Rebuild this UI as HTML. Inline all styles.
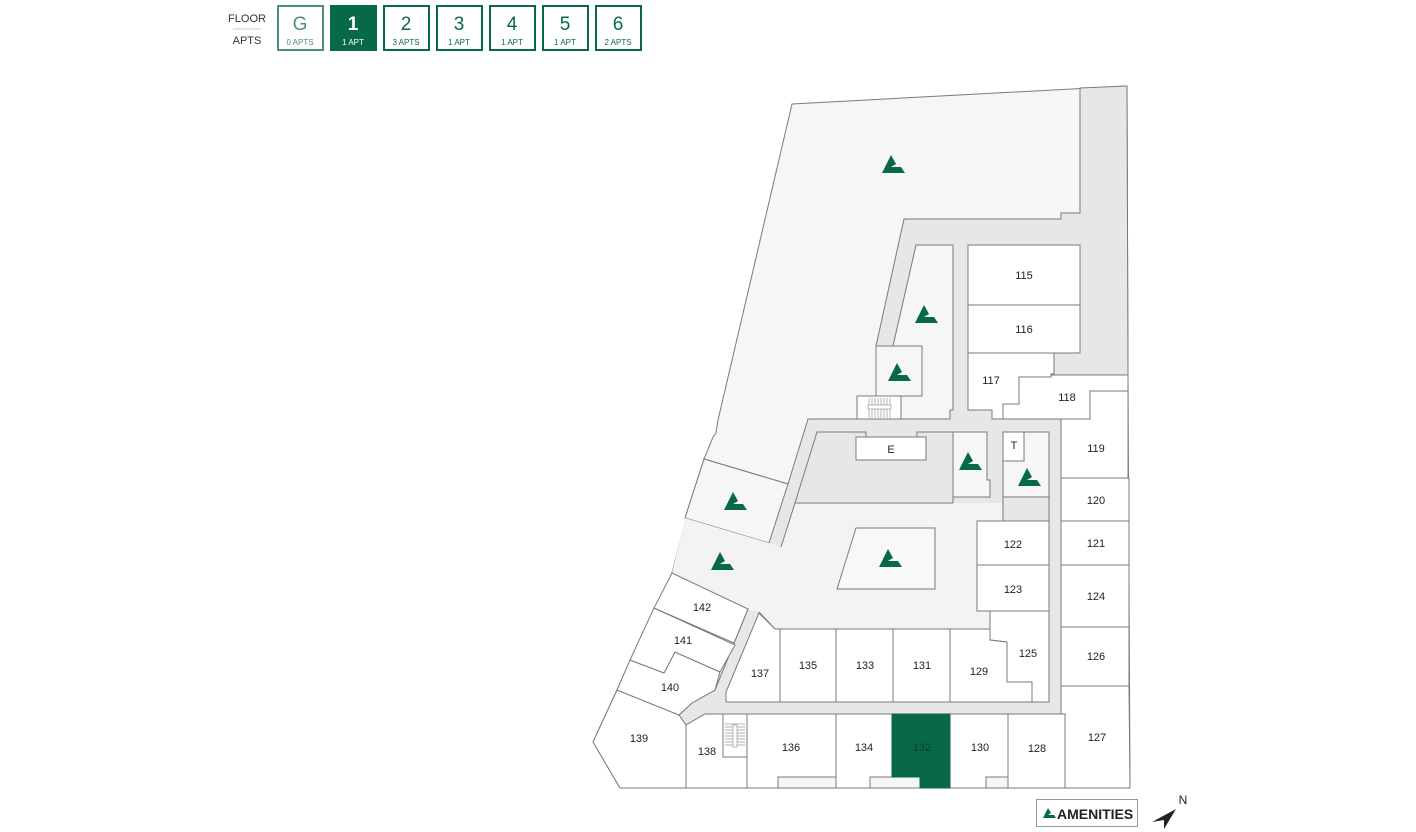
<!DOCTYPE html>
<html><head><meta charset="utf-8"><style>
body{margin:0;background:#fff;width:1416px;height:832px;overflow:hidden;font-family:"Liberation Sans",sans-serif}
svg{position:absolute;left:0;top:0}
</style></head><body>
<svg width="1416" height="832" viewBox="0 0 1416 832">
<defs>
<polygon id="am" points="-11,9 -2,-9 3,0 -2,3 8,3 12,9" fill="#07694a"/>
</defs>
<!-- header -->
<g font-family="Liberation Sans, sans-serif" text-anchor="middle">
<text x="247" y="22" font-size="11" fill="#333">FLOOR</text>
<line x1="233" y1="29" x2="261" y2="29" stroke="#ccc"/>
<text x="247" y="44" font-size="11" fill="#333">APTS</text>
<rect x="278" y="6" width="45" height="44" fill="#fff" stroke="#4f8f78" stroke-width="2"/>
<text x="300" y="30" font-size="19" fill="#4f8f78">G</text><text x="300" y="45" font-size="8" fill="#4f8f78">0 APTS</text>
<rect x="330" y="5" width="47" height="46" fill="#07694a"/>
<text x="353" y="30" font-size="19" fill="#fff" font-weight="bold">1</text><text x="353" y="45" font-size="8" fill="#fff">1 APT</text>
<g fill="none" stroke="#07694a" stroke-width="2">
<rect x="384" y="6" width="45" height="44"/><rect x="437" y="6" width="45" height="44"/><rect x="490" y="6" width="45" height="44"/><rect x="543" y="6" width="45" height="44"/><rect x="596" y="6" width="45" height="44"/></g>
<g fill="#07694a">
<text x="406" y="30" font-size="19">2</text><text x="406" y="45" font-size="8">3 APTS</text>
<text x="459" y="30" font-size="19">3</text><text x="459" y="45" font-size="8">1 APT</text>
<text x="512" y="30" font-size="19">4</text><text x="512" y="45" font-size="8">1 APT</text>
<text x="565" y="30" font-size="19">5</text><text x="565" y="45" font-size="8">1 APT</text>
<text x="618" y="30" font-size="19">6</text><text x="618" y="45" font-size="8">2 APTS</text>
</g></g>

<g stroke="#7a7a7a" stroke-width="1" stroke-linejoin="miter">
<!-- building base -->
<polygon fill="#f6f6f6" points="792,104 1127,86 1128,375 1130,788 620,788 593,742 617,690 672,573 686,518 704,459 713,437 716,433 718,420"/>
<!-- gray corridors -->
<polygon fill="#e7e7e7" points="904,219 1061,219 1061,213 1080,213 1080,88 1127,86 1128,375 1061,392 1061,714 705,714 686,725 679,715 692,703 715,690 748,609 685,518 704,459 788,484 808,419 876,419 876,346"/>
<!-- upper light areas -->
<polygon fill="#f6f6f6" points="916,245 953,245 953,410 950,410 950,419 901,419 901,396 922,396 922,346 893,346"/>
<rect x="876" y="346" width="46" height="50" fill="#f6f6f6"/>
<rect x="857" y="396" width="44" height="23" fill="#fff"/>
<!-- left box -->
<polygon fill="#f6f6f6" points="704,459 788,484 769,543 685,518"/>
<!-- central light -->
<polygon fill="#f3f3f3" stroke="none" points="685,518 769,543 781,547 795,503 1003,503 1003,521 977,521 977,611 990,611 990,629 775,629 759,612 748,609 672,573"/>
<polyline fill="none" points="781,547 795,503 953,503"/>
<polyline fill="none" points="1003,521 977,521 977,611 990,611 990,629 775,629 759,612"/>
<polygon fill="#f8f8f8" points="856,528 935,528 935,589 837,589"/>
<!-- E block -->
<polyline fill="none" points="795,503 817,432 866,432 866,437"/>
<polyline fill="none" points="917,437 917,432 953,432"/>
<rect x="856" y="437" width="70" height="23" fill="#fff"/>
<polygon fill="#f6f6f6" points="953,432 987,432 987,480 990,480 990,497 953,497 953,503"/>
<rect x="1003" y="432" width="46" height="65" fill="#f6f6f6"/>
<rect x="1003" y="432" width="21" height="29" fill="#fff"/>
<rect x="1003" y="497" width="46" height="24" fill="#e7e7e7"/>
<!-- rooms right -->
<g fill="#fff">
<rect x="968" y="245" width="112" height="60"/>
<rect x="968" y="305" width="112" height="48"/>
<polygon points="968,353 1054,353 1054,374 1051,374 1051,377 1019,377 1019,404 1003,404 1003,419 992,419 992,410 968,410"/>
<polygon points="1003,419 1003,404 1019,404 1019,377 1051,377 1051,375 1128,375 1128,391 1090,391 1090,419"/>
<polygon points="1061,419 1090,419 1090,391 1128,391 1128,478 1061,478"/>
<rect x="1061" y="478" width="68" height="43"/>
<rect x="1061" y="521" width="68" height="44"/>
<rect x="1061" y="565" width="68" height="62"/>
<rect x="1061" y="627" width="68" height="59"/>
<polygon points="1061,686 1129,686 1130,788 1065,788 1065,714 1061,714"/>
<rect x="977" y="521" width="72" height="44"/>
<rect x="977" y="565" width="72" height="46"/>
<polygon points="990,611 1049,611 1049,702 1032,702 1032,682 1007,682 1007,642 990,640"/>
<polygon points="950,629 990,629 990,640 1007,642 1007,682 1032,682 1032,702 950,702"/>
<rect x="893" y="629" width="57" height="73"/>
<rect x="836" y="629" width="57" height="73"/>
<rect x="780" y="629" width="56" height="73"/>
<polygon points="759,613 775,629 780,629 780,702 726,702 726,692"/>
<!-- bottom -->
<polygon points="686,725 705,714 747,714 747,788 686,788"/>
<rect x="723" y="714" width="24" height="43" fill="#fff"/>
<polygon points="747,714 836,714 836,777 778,777 778,788 747,788"/>
<polygon points="836,714 892,714 892,777 870,777 870,788 836,788"/>
<polygon points="950,714 1008,714 1008,777 986,777 986,788 950,788"/>
<rect x="1008" y="714" width="57" height="74"/>
<polygon points="593,742 617,690 679,715 686,725 686,788 620,788"/>
<polygon points="617,690 630,660 664,673 675,652 720,672 715,690 692,703 679,715"/>
<polygon points="630,660 654,608 735,645 720,672 675,652 664,673"/>
<polygon points="654,608 672,573 748,609 734,643"/>
</g>
<polygon fill="#07694a" stroke="#07694a" points="892,714 950,714 950,788 920,788 920,777 892,777"/>
</g>
<!-- stairs -->
<g stroke="#999" stroke-width="0.7">
<line x1="869" y1="398" x2="869" y2="418"/><line x1="872" y1="398" x2="872" y2="418"/><line x1="875" y1="398" x2="875" y2="418"/><line x1="878" y1="398" x2="878" y2="418"/><line x1="881" y1="398" x2="881" y2="418"/><line x1="884" y1="398" x2="884" y2="418"/><line x1="887" y1="398" x2="887" y2="418"/><line x1="890" y1="398" x2="890" y2="418"/>
<rect x="868" y="405" width="23" height="4" fill="#fff"/>
<line x1="725" y1="724" x2="745" y2="724"/><line x1="725" y1="727" x2="745" y2="727"/><line x1="725" y1="730" x2="745" y2="730"/><line x1="725" y1="733" x2="745" y2="733"/><line x1="725" y1="736" x2="745" y2="736"/><line x1="725" y1="739" x2="745" y2="739"/><line x1="725" y1="742" x2="745" y2="742"/><line x1="725" y1="745" x2="745" y2="745"/>
<rect x="733" y="725" width="4" height="22" fill="#fff"/>
</g>
<!-- icons -->
<use href="#am" x="893" y="164"/><use href="#am" x="926" y="314"/><use href="#am" x="899" y="372"/>
<use href="#am" x="970" y="461"/><use href="#am" x="1029" y="477"/><use href="#am" x="735" y="501"/>
<use href="#am" x="722" y="561"/><use href="#am" x="890" y="558"/>
<!-- labels -->
<g font-size="11" fill="#222" text-anchor="middle" font-family="Liberation Sans, sans-serif">
<text x="1024" y="279">115</text><text x="1024" y="333">116</text><text x="991" y="384">117</text><text x="1067" y="401">118</text>
<text x="1096" y="452">119</text><text x="1096" y="504">120</text><text x="1096" y="547">121</text><text x="1096" y="600">124</text>
<text x="1096" y="660">126</text><text x="1097" y="741">127</text><text x="1013" y="548">122</text><text x="1013" y="593">123</text>
<text x="1028" y="657">125</text><text x="979" y="675">129</text><text x="922" y="669">131</text><text x="865" y="669">133</text>
<text x="808" y="669">135</text><text x="760" y="677">137</text><text x="702" y="611">142</text><text x="683" y="644">141</text>
<text x="670" y="691">140</text><text x="639" y="742">139</text><text x="707" y="755">138</text><text x="791" y="751">136</text>
<text x="864" y="751">134</text><text x="922" y="751" fill="#0a3d2c">132</text><text x="980" y="751">130</text><text x="1037" y="752">128</text>
<text x="891" y="453">E</text><text x="1014" y="449">T</text>
</g>
<!-- legend -->
<rect x="1036.5" y="799.5" width="101" height="27" fill="#fff" stroke="#999"/>
<polygon points="1043,818 1048,808 1051,813 1048,815 1054,815 1056,818" fill="#07694a"/>
<text x="1057" y="819" font-size="14" font-weight="bold" fill="#222" font-family="Liberation Sans, sans-serif">AMENITIES</text>
<polygon points="1152,822 1176,809 1164,829 1164,820" fill="#222"/>
<text x="1183" y="804" font-size="12" fill="#222" text-anchor="middle">N</text>
</svg>
</body></html>
